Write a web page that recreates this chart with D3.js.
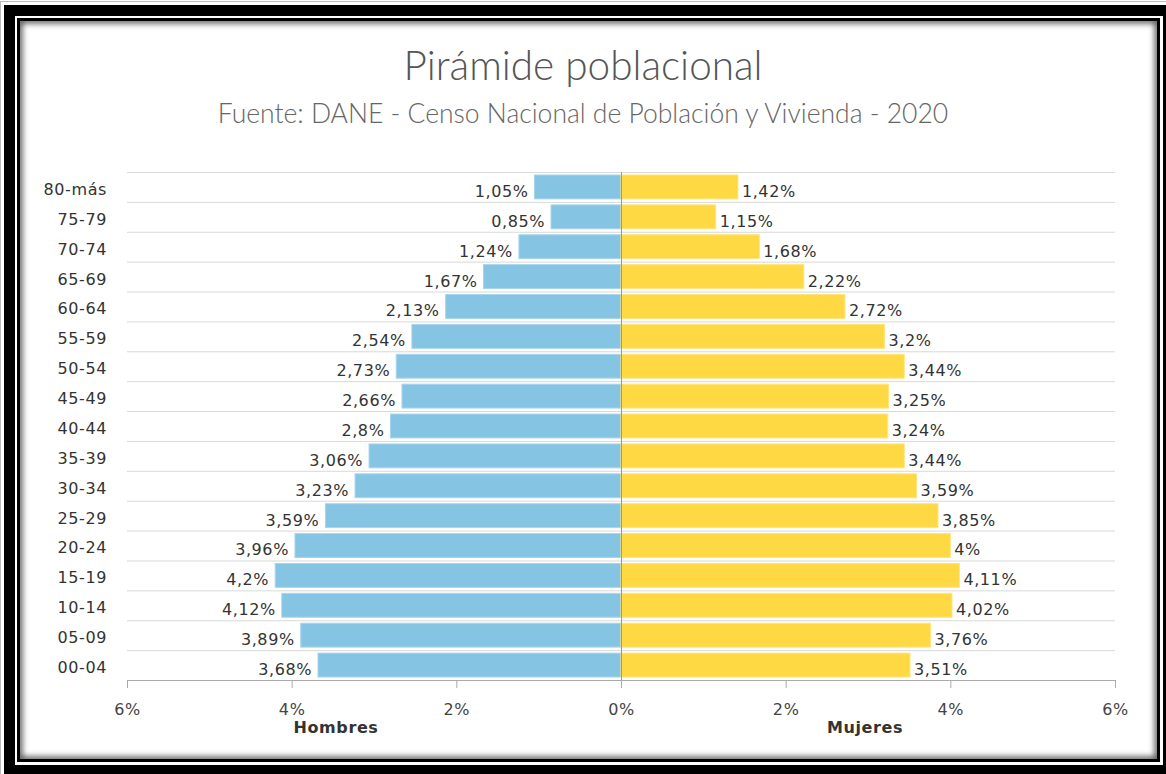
<!DOCTYPE html>
<html>
<head>
<meta charset="utf-8">
<script src="https://cdn.jsdelivr.net/npm/d3@7"></script>
<style>
  html, body { margin: 0; padding: 0; background: #fff; }
  svg { display: block; }
</style>
</head>
<body>
<svg id="chart" width="1166" height="774"></svg>
<script>
// Age groups, top to bottom
const ageGroups = ["80-más","75-79","70-74","65-69","60-64","55-59","50-54","45-49","40-44",
                   "35-39","30-34","25-29","20-24","15-19","10-14","05-09","00-04"];
// Share of total population (%)
const hombres = [1.05,0.85,1.24,1.67,2.13,2.54,2.73,2.66,2.8,3.06,3.23,3.59,3.96,4.2,4.12,3.89,3.68];
const mujeres = [1.42,1.15,1.68,2.22,2.72,3.2,3.44,3.25,3.24,3.44,3.59,3.85,4,4.11,4.02,3.76,3.51];
const xTicks = [-6,-4,-2,0,2,4,6];
const titleText = "Pirámide poblacional";
const subtitleText = "Fuente: DANE - Censo Nacional de Población y Vivienda - 2020";
const sideLabels = ["Hombres", "Mujeres"];

const svg = d3.select("#chart");
const W = 1166, H = 774;

// ---- Frame: thick black band, thin white line, thin black line, inner shadow
const defs = svg.append("defs");
const blur = defs.append("filter").attr("id","soft").attr("x","-5%").attr("y","-5%").attr("width","110%").attr("height","110%");
blur.append("feGaussianBlur").attr("stdDeviation", 3);
defs.append("clipPath").attr("id","inner")
  .append("rect").attr("x",20).attr("y",21).attr("width",1137).attr("height",738);

svg.append("rect").attr("x",0).attr("y",0).attr("width",W).attr("height",H).attr("fill","#fff");
svg.append("rect").attr("x",0.5).attr("y",1.5).attr("width",W).attr("height",H).attr("fill","none").attr("stroke","#bbb");
svg.append("rect").attr("x",4).attr("y",5).attr("width",W-4).attr("height",H-5).attr("fill","#000");
svg.append("rect").attr("x",15).attr("y",16).attr("width",1148).attr("height",749).attr("fill","#fff");
svg.append("rect").attr("x",17).attr("y",18).attr("width",1143).attr("height",744).attr("fill","#000");
svg.append("rect").attr("x",20).attr("y",21).attr("width",1137).attr("height",738).attr("fill","#fff");
svg.append("g").attr("clip-path","url(#inner)")
  .append("rect").attr("x",19).attr("y",20).attr("width",1139).attr("height",740)
  .attr("fill","none").attr("stroke","#444").attr("stroke-width",6).attr("filter","url(#soft)");

// ---- Titles
svg.append("text").attr("x",583).attr("y",80).attr("text-anchor","middle")
  .attr("font-family","Lato, 'Open Sans', sans-serif").attr("font-weight",300)
  .attr("font-size",40.5).attr("fill","#555").text(titleText);
svg.append("text").attr("x",583).attr("y",123).attr("text-anchor","middle")
  .attr("font-family","Lato, 'Open Sans', sans-serif").attr("font-weight",300)
  .attr("font-size",26.5).attr("fill","#666").text(subtitleText);

// ---- Scales
const plotLeft = 127, plotRight = 1115, plotTop = 172, plotBottom = 680;
const x = d3.scaleLinear().domain([-6, 6]).range([plotLeft, plotRight]);
const y = d3.scaleBand().domain(ageGroups).range([plotTop, plotBottom]).paddingInner(0.2).paddingOuter(0.1);
const step = y.step();
const fmt = v => String(v).replace(".", ",") + "%";
const font = "'DejaVu Sans', Verdana, sans-serif";
const fs = 16, ls = 0.6;

// ---- Horizontal grid lines at row boundaries
const g = svg.append("g");
g.selectAll("line.grid").data(d3.range(ageGroups.length))
  .join("line").attr("class","grid")
  .attr("x1", plotLeft).attr("x2", plotRight)
  .attr("y1", i => plotTop + i * step + 0.5).attr("y2", i => plotTop + i * step + 0.5)
  .attr("stroke","#d9d9d9").attr("stroke-width",1);

// ---- Bars
const rows = ageGroups.map((a, i) => ({ age: a, h: hombres[i], m: mujeres[i] }));
g.selectAll("rect.h").data(rows).join("rect").attr("class","h")
  .attr("x", d => x(-d.h)).attr("width", d => x(0) - x(-d.h))
  .attr("y", d => y(d.age)).attr("height", y.bandwidth())
  .attr("fill","#85c4e2").attr("stroke","#a8d5ec").attr("stroke-width",1);
g.selectAll("rect.m").data(rows).join("rect").attr("class","m")
  .attr("x", x(0)).attr("width", d => x(d.m) - x(0))
  .attr("y", d => y(d.age)).attr("height", y.bandwidth())
  .attr("fill","#fed943").attr("stroke","#fee47e").attr("stroke-width",1);

// ---- Center line
g.append("line").attr("x1", x(0) + 0.5).attr("x2", x(0) + 0.5)
  .attr("y1", plotTop).attr("y2", plotBottom).attr("stroke","#999").attr("stroke-width",1);

// ---- Value labels
g.selectAll("text.lh").data(rows).join("text").attr("class","lh")
  .attr("x", d => x(-d.h) - 6).attr("y", d => y(d.age) + y.bandwidth() - 2)
  .attr("text-anchor","end").attr("font-family",font).attr("font-size",fs).attr("letter-spacing",ls)
  .attr("fill","#333").text(d => fmt(d.h));
g.selectAll("text.lm").data(rows).join("text").attr("class","lm")
  .attr("x", d => x(d.m) + 4).attr("y", d => y(d.age) + y.bandwidth() - 2)
  .attr("text-anchor","start").attr("font-family",font).attr("font-size",fs).attr("letter-spacing",ls)
  .attr("fill","#333").text(d => fmt(d.m));

// ---- Category labels
g.selectAll("text.cat").data(ageGroups).join("text").attr("class","cat")
  .attr("x", 107).attr("y", d => y(d) + y.bandwidth() - 4)
  .attr("text-anchor","end").attr("font-family",font).attr("font-size",fs).attr("letter-spacing",ls)
  .attr("fill","#333").text(d => d);

// ---- X axis
const xAxis = d3.axisBottom(x).tickValues(xTicks).tickSize(8).tickPadding(16)
  .tickFormat(d => Math.abs(d) + "%");
const ax = svg.append("g").attr("transform", `translate(0,${plotBottom})`).call(xAxis);
ax.select(".domain").attr("stroke","#aaa").attr("d", `M${plotLeft},0.5H${plotRight}`);
ax.selectAll(".tick line").attr("stroke","#aaa");
ax.selectAll(".tick text").attr("font-family",font).attr("font-size",fs).attr("letter-spacing",ls).attr("fill","#444");

// ---- Side titles
svg.append("text").attr("x",336).attr("y",733).attr("text-anchor","middle")
  .attr("font-family",font).attr("font-weight","bold").attr("font-size",fs).attr("letter-spacing",ls)
  .attr("fill","#333").text(sideLabels[0]);
svg.append("text").attr("x",865).attr("y",733).attr("text-anchor","middle")
  .attr("font-family",font).attr("font-weight","bold").attr("font-size",fs).attr("letter-spacing",ls)
  .attr("fill","#333").text(sideLabels[1]);
</script>
</body>
</html>
